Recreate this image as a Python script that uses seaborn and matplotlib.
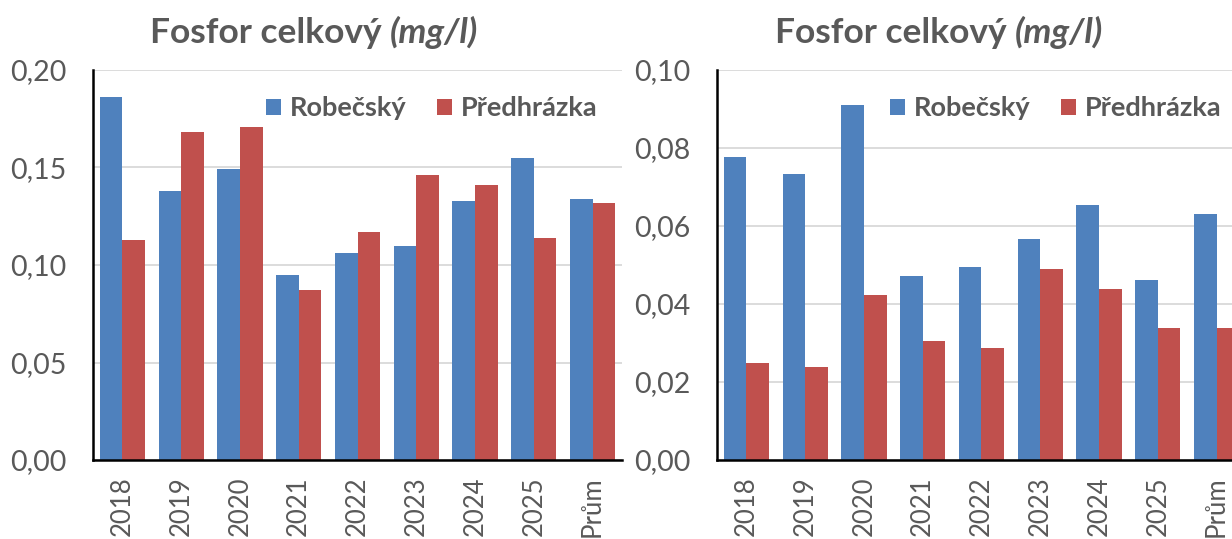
import pandas as pd
import seaborn as sns
import matplotlib.pyplot as plt
from matplotlib.ticker import FuncFormatter, MultipleLocator

# %%
# data
years = ["2018", "2019", "2020", "2021", "2022", "2023", "2024", "2025", "Prům"]
stations = ["Robečský", "Předhrázka"]

left_robecsky = [0.186, 0.138, 0.149, 0.095, 0.106, 0.110, 0.133, 0.155, 0.134]
left_predhrazka = [0.113, 0.168, 0.171, 0.087, 0.117, 0.146, 0.141, 0.114, 0.132]

right_robecsky = [0.0777, 0.0733, 0.0911, 0.0472, 0.0496, 0.0566, 0.0654, 0.0461, 0.0630]
right_predhrazka = [0.0248, 0.0239, 0.0424, 0.0305, 0.0286, 0.0490, 0.0438, 0.0338, 0.0339]

title_main = "Fosfor celkový"
title_unit = "(mg/l)"

colors = ["#4F81BD", "#C0504D"]
text_col = "#595959"


def long_df(a, b):
    return pd.DataFrame({
        "rok": years * 2,
        "hodnota": a + b,
        "stanice": [stations[0]] * len(years) + [stations[1]] * len(years),
    })


# %%
sns.set_theme(style="white")
plt.rcParams["font.family"] = ["Lato", "DejaVu Sans"]

W, H = 1232, 539
fig = plt.figure(figsize=(W / 100, H / 100), dpi=100)

panels = [
    (long_df(left_robecsky, left_predhrazka), 93, 0.20, 0.05, 150),
    (long_df(right_robecsky, right_predhrazka), 717, 0.10, 0.02, 775),
]

axes = []
for df, x0, ymax, step, title_x in panels:
    ax = fig.add_axes([x0 / W, 79 / H, 529 / W, 390 / H])
    sns.barplot(data=df, x="rok", y="hodnota", hue="stanice", palette=colors,
                saturation=1, width=0.77, linewidth=0, ax=ax)
    ax.set_ylim(0, ymax)
    ax.set_xlim(-0.5, 8.5)
    ax.yaxis.set_major_locator(MultipleLocator(step))
    ax.yaxis.set_major_formatter(FuncFormatter(lambda v, p: f"{v:.2f}".replace(".", ",")))
    ax.yaxis.grid(True, color="#D9D9D9", lw=1.3)
    ax.set_axisbelow(True)
    ax.set_xlabel("")
    ax.set_ylabel("")
    for s in ["top", "right"]:
        ax.spines[s].set_visible(False)
    for s in ["left", "bottom"]:
        ax.spines[s].set_color("black")
        ax.spines[s].set_linewidth(1.8)
    ax.tick_params(axis="y", length=0, pad=19, labelsize=20.5, labelcolor=text_col)
    ax.tick_params(axis="x", length=0, pad=12, labelsize=18.5, labelcolor=text_col,
                   labelrotation=90)
    for lab in ax.get_xticklabels():
        lab.set_verticalalignment("top")
    leg = ax.legend(loc="upper right", ncol=2, frameon=False,
                    bbox_to_anchor=(1.0, 0.995),
                    handlelength=0.55, handleheight=0.55, handletextpad=0.35,
                    columnspacing=1.1,
                    prop={"weight": "bold", "size": 19.5})
    for t in leg.get_texts():
        t.set_color(text_col)

    # title: bold part + bold italic unit
    t1 = fig.text(title_x / W, 1 - 43 / H, title_main, fontsize=25.5, fontweight="bold",
                  color=text_col, ha="left", va="baseline")
    axes.append((t1, ax))

fig.canvas.draw()
renderer = fig.canvas.get_renderer()
for t1, ax in axes:
    bb = t1.get_window_extent(renderer)
    fig.text((bb.x1 + 8) / W, 1 - 43 / H, title_unit, fontsize=25.5, fontweight="bold",
             fontstyle="italic", color=text_col, ha="left", va="baseline")

fig.savefig("out.png", dpi=100)
